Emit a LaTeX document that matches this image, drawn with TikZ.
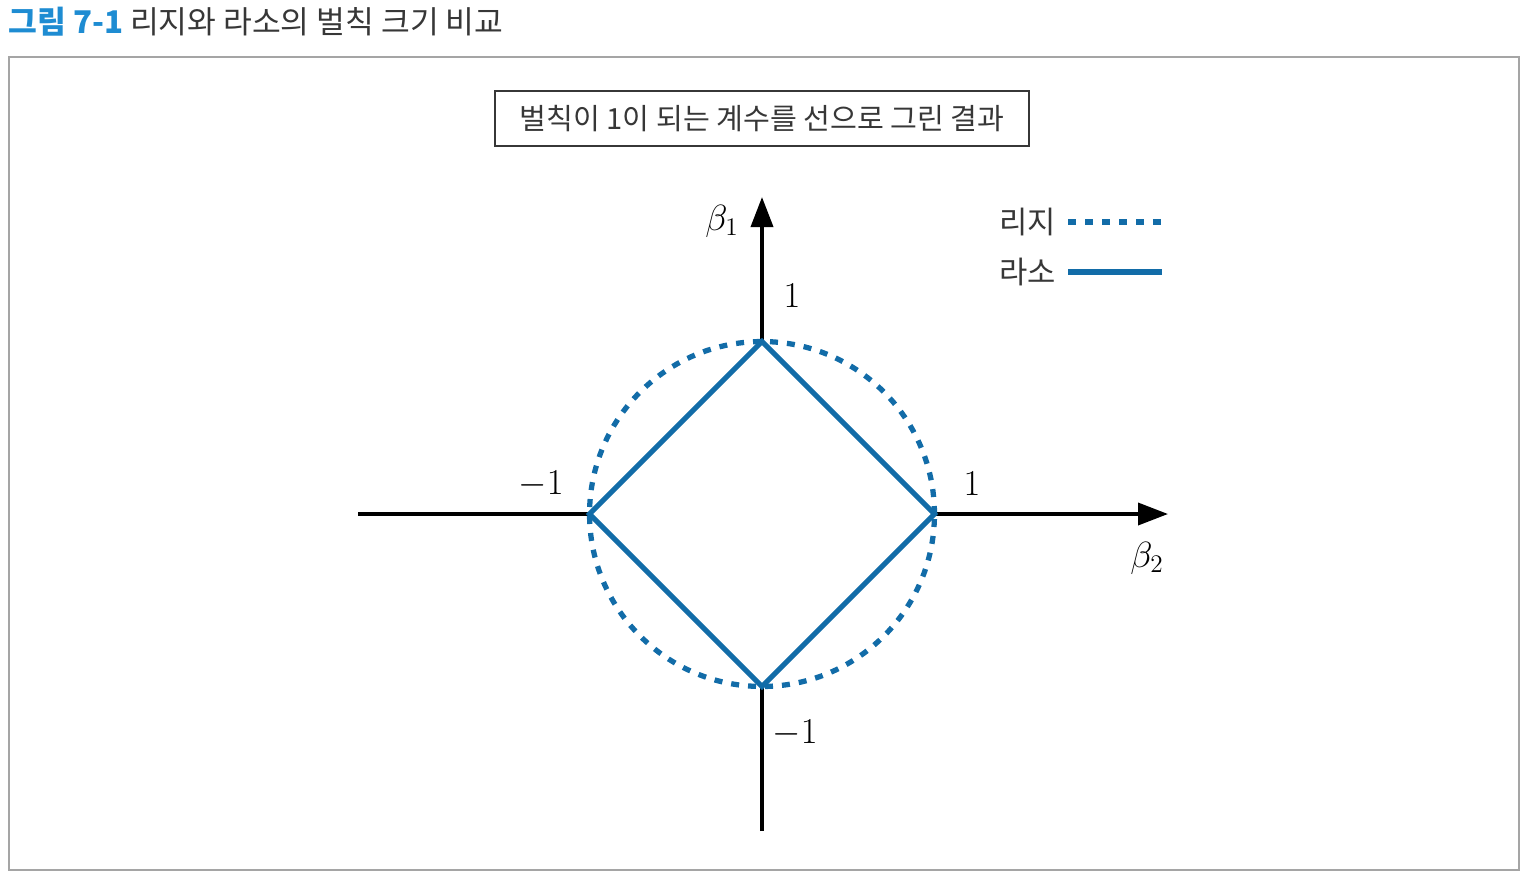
\documentclass[tikz,border=0pt]{standalone}
\usepackage{fontspec}
\usetikzlibrary{arrows.meta}
\newfontfamily\kr{Noto Sans CJK KR}
\definecolor{normblue}{RGB}{18,108,168}
\definecolor{figblue}{RGB}{30,140,210}
\definecolor{framegray}{RGB}{165,165,165}
\definecolor{textgray}{RGB}{55,55,55}

\begin{document}
\begin{tikzpicture}[x=0.02cm, y=-0.02cm, font=\kr,
  axis/.style={line width=2.1pt},
  tip/.style={-{Triangle[length=0.6cm,width=0.44cm]}},
  lasso/.style={normblue, line width=2.9pt, line join=miter},
  ridge/.style={normblue, line width=3pt, dash pattern=on 0.16cm off 0.18cm},
  lbl/.style={font=\fontsize{20}{24}\selectfont},
  legtext/.style={anchor=east, text=textgray, font=\kr\fontsize{17.5}{20}\selectfont}]
\useasboundingbox (0,0) rectangle (1524,877);
% caption and frame
\node[anchor=west, inner sep=0pt, font=\kr\fontsize{17.8}{21}\selectfont] (cap) at (8,22)
  {\textcolor{figblue}{\bfseries 그림 7-1}\ \textcolor{textgray}{리지와 라소의 벌칙 크기 비교}};
\draw[framegray, line width=1.5pt] (9,57) rectangle (1519,870);
\node[draw=textgray, line width=1pt, minimum width=10.68cm, minimum height=1.1cm,
  text=textgray, font=\kr\fontsize{16.6}{19}\selectfont] (head) at (762,118.5)
  {벌칙이 1이 되는 계수를 선으로 그린 결과};
% unit balls
\coordinate (O) at (762,514);
\coordinate (top) at (762,341.5);
\coordinate (right) at (934.5,514);
\coordinate (bot) at (762,686.5);
\coordinate (left) at (589.5,514);
% axes (outside the diamond only)
\coordinate (xl) at (358,514);
\coordinate (xr) at (1168,514);
\coordinate (yb) at (762,831);
\coordinate (yt) at (762,197);
\draw[axis] (xl) -- (left);
\draw[axis,tip] (right) -- (xr);
\draw[axis] (yb) -- (bot);
\draw[axis,tip] (top) -- (yt);
\draw[ridge] (O) circle[radius=3.45cm];
\draw[lasso] (top) -- (right) -- (bot) -- (left) -- cycle;
% labels
\node[lbl] (b1) at (722,221) {$\beta_1$};
\node[lbl] (b2) at (1147,558) {$\beta_2$};
\node[lbl] (ytop) at (792,296) {$1$};
\node[lbl] (ybot) at (795,733) {$-1$};
\node[lbl] (xneg) at (541,484) {$-1$};
\node[lbl] (xpos) at (972,484) {$1$};
% legend
\node[legtext] (lr) at (1062,222) {리지};
\node[legtext] (ll) at (1062,272) {라소};
\coordinate (lr1) at (1068,222);
\coordinate (lr2) at (1162,222);
\coordinate (ll1) at (1068,272);
\coordinate (ll2) at (1162,272);
\draw[ridge] (lr1) -- (lr2);
\draw[lasso] (ll1) -- (ll2);
\end{tikzpicture}
\end{document}
